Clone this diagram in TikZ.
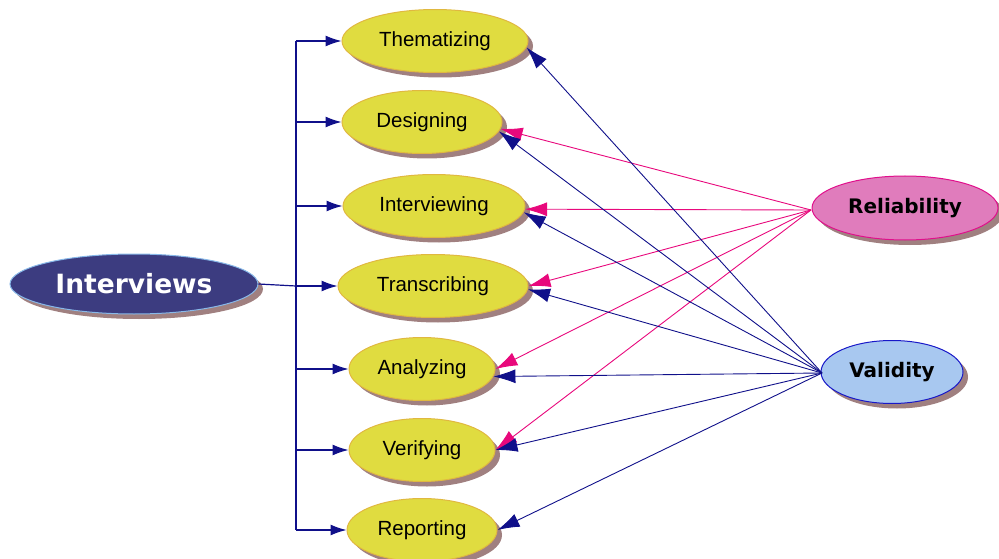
\documentclass[tikz,border=0pt]{standalone}
\usepackage{fontspec}
\setmainfont{Liberation Sans}
\newfontfamily\boldfam{DejaVu Sans}
\usetikzlibrary{shapes.geometric,shadows,arrows.meta}
\definecolor{navyc}{HTML}{10108A}
\definecolor{pinkc}{HTML}{E8087C}
\definecolor{yellowc}{HTML}{E0DC40}
\definecolor{yellowb}{HTML}{E0B840}
\definecolor{shadowc}{HTML}{A08080}
\definecolor{ivfill}{HTML}{3C3C80}
\definecolor{ivborder}{HTML}{88B8E8}
\definecolor{relfill}{HTML}{E07CBC}
\definecolor{relborder}{HTML}{E0108C}
\definecolor{valfill}{HTML}{A8C8F0}
\definecolor{valborder}{HTML}{1818C8}
\begin{document}
\begin{tikzpicture}[x=1pt,y=-1pt,
  ell/.style={ellipse, draw, line width=1pt, inner sep=0pt,
    drop shadow={shadow xshift=5pt, shadow yshift=-5pt, fill=shadowc, opacity=1}},
  task/.style={ell, fill=yellowc, draw=yellowb, minimum height=63pt,
    font=\fontsize{20.5}{24}\selectfont},
  hub/.style={ell, font=\boldfam\bfseries\fontsize{20}{24}\selectfont},
  tree/.style={draw=navyc, line width=1.2pt},
  treearrow/.style={tree, -{Latex[length=16pt,width=11pt]}},
  navyline/.style={draw=navyc, line width=0.9pt, -{Latex[length=22pt,width=14pt]}},
  pinkline/.style={draw=pinkc, line width=0.9pt, -{Latex[length=22pt,width=14pt]}}]
\useasboundingbox (0,0) rectangle (999,559);

\node[task, minimum width=186pt] (th) at (435,41) {Thematizing};
\node[task, minimum width=160pt] (de) at (422,122) {Designing};
\node[task, minimum width=182pt] (iv) at (434,206) {Interviewing};
\node[task, minimum width=190pt] (tr) at (433,286) {Transcribing};
\node[task, minimum width=146pt] (an) at (422,369) {Analyzing};
\node[task, minimum width=146pt] (ve) at (422,450) {Verifying};
\node[task, minimum width=150pt] (re) at (422,530) {Reporting};

\node[hub, fill=ivfill, draw=ivborder, text=white, minimum width=248pt, minimum height=60pt,
  font=\boldfam\bfseries\fontsize{26.5}{30}\selectfont] (iw) at (134,284) {Interviews};
\node[hub, fill=relfill, draw=relborder, minimum width=186pt, minimum height=64pt] (rel) at (905,208) {Reliability};
\node[hub, fill=valfill, draw=valborder, minimum width=142pt, minimum height=63pt] (val) at (892,372) {Validity};

\coordinate (tk) at (296,285);
\draw[tree] (tk |- th.west) -- (tk |- re.west);
\draw[tree] (iw.east) -- (tk |- tr.west);
\foreach \n in {th,de,iv,tr,an,ve,re}
  \draw[treearrow] (tk |- \n.west) -- (\n.west);

\coordinate (rs) at (811,210);
\draw[pinkline] (rs) -- (de.-5);
\draw[pinkline] (rs) -- (iv.-2);
\draw[pinkline] (rs) -- (tr.east);
\draw[pinkline] (rs) -- (an.east);
\draw[pinkline] (rs) -- (ve.east);

\coordinate (vs) at (822,373);
\draw[navyline] (vs) -- (th.-4);
\draw[navyline] (vs) -- (de.-7);
\draw[navyline] (vs) -- (iv.-4);
\draw[navyline] (vs) -- (tr.-2);
\draw[navyline] (vs) -- (an.-6);
\draw[navyline] (vs) -- (ve.east);
\draw[navyline] (vs) -- (re.east);
\end{tikzpicture}
\end{document}
